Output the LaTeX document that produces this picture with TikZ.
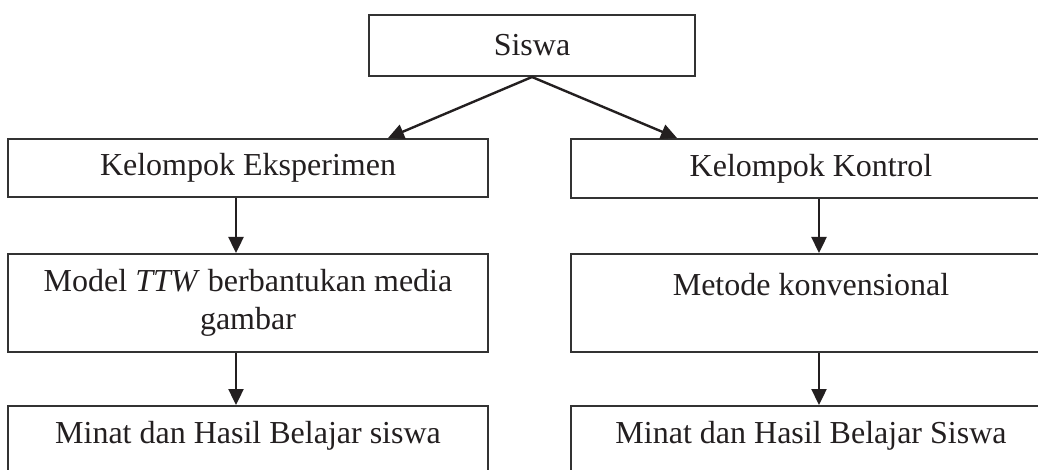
\documentclass[tikz,border=0pt]{standalone}
\usepackage{fontspec}
\setmainfont{Liberation Serif}
\usetikzlibrary{arrows.meta}
\definecolor{ink}{HTML}{231F20}
\definecolor{edge}{HTML}{333333}
\tikzset{
  box/.style={draw=edge, line width=2pt, rectangle, inner sep=0pt, text=ink,
    font=\fontsize{32}{37.5}\selectfont, align=center},
  conn/.style={draw=ink, line width=2.4pt, -{Triangle[length=16pt,width=15pt]}},
  lbl/.style={inner sep=0pt, text=ink, font=\fontsize{32}{37.5}\selectfont, align=center}
}
\begin{document}
\begin{tikzpicture}[x=1pt,y=-1pt]
\clip (0,0) rectangle (1038,470);
\fill[white] (0,0) rectangle (1038,470);
\node[box, minimum width=326pt, minimum height=61pt] (siswa) at (532,45.5) {Siswa};
\node[box, minimum width=480pt, minimum height=58pt] (ke) at (248,168) {Kelompok Eksperimen};
\node[box, minimum width=480pt, minimum height=59pt] (kk) at (811,168.5) {Kelompok Kontrol};
\node[box, minimum width=480pt, minimum height=98pt] (mo) at (248,303) {Model \textit{TTW} berbantukan media\\gambar};
\node[box, minimum width=480pt, minimum height=98pt] (me) at (811,303) {Metode konvensional\\\mbox{}};
\node[box, minimum width=480pt, minimum height=72pt] (b1) at (248,442) {};
\node[box, minimum width=480pt, minimum height=72pt] (b2) at (811,442) {};
\node[lbl] (t1) at (248,436) {Minat dan Hasil Belajar siswa};
\node[lbl] (t2) at (811,436) {Minat dan Hasil Belajar Siswa};
\draw[conn] (siswa.south) -- ([xshift=140pt]ke.north);
\draw[conn] (siswa.south) -- ([xshift=-134pt]kk.north);
\draw[conn] ([xshift=-12pt]ke.south) -- ([xshift=-12pt]mo.north);
\draw[conn] ([xshift=8pt]kk.south) -- ([xshift=8pt]me.north);
\draw[conn] ([xshift=-12pt]mo.south) -- ([xshift=-12pt]b1.north);
\draw[conn] ([xshift=8pt]me.south) -- ([xshift=8pt]b2.north);
\end{tikzpicture}
\end{document}
